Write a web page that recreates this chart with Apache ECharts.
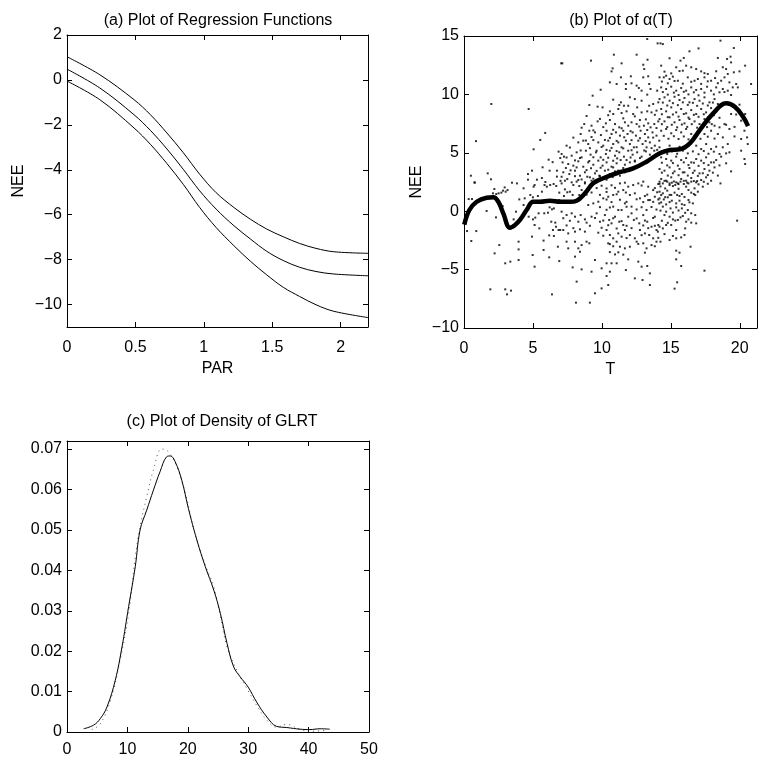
<!DOCTYPE html>
<html><head><meta charset="utf-8">
<script src="https://cdn.jsdelivr.net/npm/echarts@6/dist/echarts.min.js"></script>
<style>html,body{margin:0;padding:0;background:#fff}#c{width:759px;height:761px}</style>
</head><body><div id="c"></div><script>
// ---------- Panel (a): regression functions ----------
const parX   = [0,0.24,0.49,0.61,0.73,0.85,0.97,1.09,1.22,1.34,1.46,1.58,1.70,1.82,1.95,2.2];
const regUp  = [1.03,0.23,-0.88,-1.55,-2.36,-3.24,-4.2,-5.02,-5.68,-6.2,-6.64,-6.98,-7.28,-7.5,-7.65,-7.72];
const regMid = [0.48,-0.36,-1.55,-2.25,-3.07,-3.98,-4.94,-5.75,-6.49,-7.08,-7.63,-8.04,-8.34,-8.53,-8.64,-8.72];
const regLow = [-0.05,-0.88,-2.14,-2.87,-3.72,-4.65,-5.68,-6.57,-7.38,-8.07,-8.68,-9.23,-9.64,-10.01,-10.3,-10.58];
const aYTicks = [-10,-8,-6,-4,-2,0,2];

// ---------- Panel (b): alpha(T) ----------
const alphaT = [0.02,0.39,0.92,1.64,2.13,2.49,2.85,3.33,3.7,4.06,4.54,5.02,5.51,6.23,6.96,7.68,8.17,8.77,9.37,10.1,11.06,12.27,13.24,14.2,14.93,15.65,16.38,17.1,18.07,19.03,19.64,20.24,20.6];
const alphaV = [-1.15,0.1,0.81,1.15,1.19,0.81,-0.18,-1.41,-1.18,-0.75,0.1,0.81,0.81,0.9,0.81,0.81,0.9,1.53,2.39,2.82,3.25,3.67,4.24,4.96,5.24,5.3,5.81,6.95,8.38,9.24,8.95,8.09,7.29];
const neePts = [
[0.77,2.44],[2.2,1.9],[2.1,1.53],[2.34,1.47],[2.51,1.53],[2.71,1.59],[2.83,1.76],[2.95,2.04],[3.02,1.67],[3.16,1.81],[0.34,1.04],[0.58,1.04],[1.64,0.02],[2.32,-0.53],[2.63,0.53],[2.8,0.44],[3.48,2.44],[3.84,2.38],[4.32,1.96],[5.05,2.1],[5.12,2.24],[4.01,1.01],[4.4,1.1],[4.32,0.53],[4.81,1.39],[5.0,1.19],[5.36,1.3],[5.65,1.67],[5.84,2.24],[6.01,2.1],[6.25,2.24],[6.5,2.33],[6.69,2.16],[6.91,1.59],[6.91,0.96],[3.77,-0.04],[3.6,-0.7],[4.44,-0.18],[4.69,-0.47],[5.0,-0.7],[5.17,-0.55],[5.12,-1.18],[5.41,-0.18],[5.82,-0.18],[6.21,0.33],[6.38,0.16],[6.52,0.24],[6.09,-0.13],[6.33,-0.9],[6.62,-0.98],[6.67,-1.33],[6.86,-1.61],[6.98,-1.61],[6.45,-1.61],[5.46,-1.47],[0.22,-1.7],[0.89,-1.7],[0.53,-2.55],[2.56,-2.9],[3.96,-2.61],[5.77,-2.52],[6.18,-2.07],[6.52,-2.12],[4.93,-2.18],[2.22,-3.61],[3.96,-3.27],[5.77,-3.32],[6.81,-3.04],[2.99,-4.46],[3.36,-4.32],[3.96,-4.18],[4.98,-3.75],[6.18,-3.95],[5.12,-4.75],[6.91,-4.27],[1.91,-6.69],[2.99,-6.69],[3.12,-7.12],[3.41,-6.8],[6.38,-7.12],
[1.98,9.18],[4.69,8.75],[7.05,12.66],[5.89,6.7],[5.53,6.1],[0.87,6.0],[5.05,5.3],[6.86,5.1],[6.14,4.41],[6.43,4.2],[6.98,4.55],[5.7,3.76],[6.21,3.47],[6.74,3.47],[4.93,3.47],[6.74,2.96],[0.5,3.04],[1.72,3.24],[1.96,2.73],[4.64,3.18],[4.64,2.7],[5.29,2.7],[5.65,2.84],[5.9,2.5],[7.0,2.6],[0.77,2.47],
[13.29,14.74],[14.04,14.37],[7.13,12.66],[9.21,12.89],[10.87,13.4],[12.52,13.4],[13.31,12.97],[11.43,12.66],[13.0,12.54],[13.07,12.17],[10.78,12.23],[10.7,11.97],[12.1,11.55],[13.0,11.46],[13.36,11.55],[11.38,11.46],[10.58,11.03],[11.07,10.89],[11.74,10.89],[12.15,10.95],[12.52,10.75],[12.68,10.55],[13.43,10.89],[13.53,10.46],[11.74,10.46],[9.91,10.4],[12.88,10.32],[13.29,9.98],[14.01,10.32],[9.33,9.89],[12.03,9.75],[12.39,9.6],[12.88,9.46],[10.82,9.55],[9.09,9.09],[9.69,8.95],[10.05,8.89],[11.38,9.32],[11.26,9.09],[11.6,9.03],[11.91,9.03],[12.56,8.89],[13.43,9.03],[13.72,9.18],[14.09,9.32],[10.58,8.55],[10.82,8.32],[11.19,8.75],[11.43,8.41],[11.79,8.55],[12.27,8.32],[12.88,8.46],[13.29,8.55],[13.6,8.46],[13.96,8.61],
[8.72,7.46],[9.25,7.32],[9.69,7.69],[10.29,7.52],[10.58,7.81],[10.95,7.46],[11.26,7.18],[11.67,7.61],[11.91,7.32],[12.15,7.61],[12.52,7.46],[12.76,7.81],[13.05,7.32],[13.36,7.52],[13.53,7.18],[13.8,7.46],[14.09,7.69],
[8.46,6.61],[9.09,6.89],[9.5,6.75],[9.93,6.52],[10.34,6.89],[10.7,6.61],[11.02,6.75],[11.31,6.47],[11.55,6.89],[11.86,6.61],[12.23,6.75],[12.47,6.47],[12.81,6.89],[13.12,6.61],[13.36,6.32],[13.67,6.75],[13.96,6.47],
[7.44,5.61],[8.29,5.89],[8.65,6.04],[9.01,5.75],[9.38,6.09],[9.74,5.89],[10.1,5.61],[10.46,6.04],[10.82,5.75],[11.19,5.89],[11.43,5.47],[11.74,6.04],[12.03,5.75],[12.32,5.47],[12.64,6.04],[12.95,5.75],[13.24,5.47],[13.48,5.89],[13.84,5.61],[14.16,6.04],
[7.08,4.9],[7.25,4.67],[7.81,4.75],[8.17,5.04],[8.53,4.61],[8.84,5.18],[9.18,4.84],[9.57,5.04],[9.91,4.61],[10.29,4.9],[10.58,5.18],[10.95,4.75],[11.26,5.04],[11.6,4.67],[11.91,5.18],[12.23,4.84],[12.56,5.04],[12.88,4.67],[13.19,5.12],[13.48,4.84],[13.8,5.18],
[7.15,4.18],[7.56,4.04],[7.93,3.9],[8.29,4.27],[8.65,3.81],[9.01,4.18],[9.38,3.98],[9.74,4.33],[10.05,3.9],[10.34,4.18],[10.7,3.81],[11.07,4.1],[11.36,4.38],[11.67,3.98],[12.03,4.18],[12.39,4.33],[12.76,3.9],
[7.2,3.33],[7.64,3.18],[8.05,3.47],[8.41,3.04],[8.77,3.33],[9.13,2.9],[9.5,3.24],[9.81,3.04],[10.22,3.47],[10.58,3.18],[10.95,3.41],[11.31,3.04],[11.67,3.33],[7.32,2.61],[7.81,2.47],[8.29,2.67],[8.77,2.47],[9.25,2.61],[9.62,2.47],
[14.25,14.37],[14.42,14.31],[16.35,13.69],[17.01,13.94],[18.6,14.6],[19.57,13.97],[14.91,13.09],[15.7,12.89],[15.94,13.12],[16.11,12.46],[18.41,13.12],[19.08,13.03],[19.33,13.23],[19.37,12.74],[20.39,12.46],[14.3,12.46],[15.39,12.32],[15.87,12.03],[16.48,12.32],[16.84,12.17],[17.2,11.97],[17.68,11.75],[18.77,12.32],[19.01,12.17],[19.13,11.75],[19.57,11.89],[19.98,11.97],[20.82,10.89],[19.74,10.89],[19.86,10.6],
[14.18,11.46],[14.49,11.46],[14.66,11.6],[14.91,11.32],[15.15,11.52],[15.51,11.17],[16.23,11.46],[16.72,11.17],[16.96,11.32],[17.44,11.46],[17.92,11.17],[18.21,11.4],[18.65,11.17],[18.89,11.46],[19.25,11.03],
[14.3,10.6],[14.66,10.46],[15.03,10.66],[15.39,10.32],[15.75,10.55],[16.11,10.32],[16.48,10.6],[16.84,10.38],[17.2,10.46],[17.63,10.66],[17.92,10.32],[18.29,10.6],[18.53,10.18],[18.77,10.46],[19.13,10.32],[19.49,10.6],
[14.18,9.6],[14.54,9.75],[14.91,9.46],[15.27,9.8],[15.63,9.52],[15.99,9.69],[16.35,9.32],[16.72,9.6],[17.08,9.46],[17.44,9.75],[17.8,9.32],[18.17,9.6],[18.41,9.18],[19.98,9.12],
[14.3,8.75],[14.66,8.55],[15.03,8.89],[15.39,8.46],[15.75,8.75],[16.11,8.38],[16.48,8.66],[16.84,8.32],[17.2,8.75],[17.56,8.46],[17.92,8.83],[18.29,8.55],[19.37,8.32],[20.1,7.75],[20.39,8.32],
[14.18,7.89],[14.54,7.69],[14.91,8.04],[15.27,7.61],[15.63,7.81],[15.99,7.52],[16.35,7.89],[16.72,7.69],[17.08,7.46],[17.44,7.89],[17.8,7.61],[18.17,7.32],[18.89,7.46],[19.25,7.04],[20.34,6.89],
[14.3,6.89],[14.66,7.04],[15.03,6.67],[15.39,6.95],[15.75,6.75],[16.11,7.04],[16.48,6.61],[16.96,6.84],[17.44,6.61],[17.92,6.89],[18.41,6.61],[18.77,6.32],[19.13,5.75],[20.53,6.32],[20.58,5.75],[20.1,5.18],
[14.18,5.47],[14.54,5.18],[14.91,5.61],[15.27,5.32],[15.63,5.52],[16.84,5.61],[17.2,5.32],[17.56,5.75],[17.92,5.32],[18.29,5.52],[18.77,5.47],[19.01,4.95],[19.25,5.04],[20.34,4.47],[20.39,4.04],
[14.3,4.61],[14.66,4.47],[15.03,4.33],[15.39,4.67],[15.75,4.38],[16.11,4.55],[16.48,4.18],[16.84,4.47],[17.2,4.33],[17.56,4.61],[17.92,4.18],[18.29,4.38],[18.65,4.67],
[14.18,3.61],[14.54,3.47],[14.91,3.75],[15.27,3.41],[15.63,3.61],[15.99,3.33],[16.35,3.7],[16.72,3.47],[17.08,3.24],[17.44,3.61],[17.8,3.47],[18.17,3.75],[19.37,3.41],
[14.3,2.76],[14.66,2.61],[15.03,2.9],[15.39,2.47],[15.75,2.76],[16.11,2.61],[16.48,2.84],[16.84,2.47],[17.2,2.67],[17.56,2.9],[17.92,2.61],
[7.08,2.38],[7.32,1.87],[7.68,1.67],[7.93,2.24],[8.17,2.53],[8.36,2.16],[8.53,1.81],[8.77,2.38],[7.25,1.3],[7.88,1.39],[8.36,1.39],[9.01,0.53],[9.38,0.67],[9.74,0.81],[10.1,1.1],[10.46,1.24],[10.82,1.39],[11.19,1.67],[11.55,1.81],[11.91,2.1],[12.27,2.24],[12.64,2.38],[13.0,2.53],[13.36,2.1],[13.72,1.81],[14.09,2.33],[11.31,2.38],[11.67,2.44],[12.03,1.39],[12.39,1.53],[12.76,1.1],[13.12,1.3],[13.48,0.96],[13.84,1.24],[14.16,0.67],[10.82,0.39],[11.19,0.1],[11.67,0.67],[12.15,0.39],
[7.08,-0.04],[7.44,-0.33],[7.81,-0.18],[8.05,-0.47],[8.29,-0.9],[8.46,-0.33],[8.77,-0.7],[8.89,-0.98],[9.25,-0.47],[9.62,-0.18],[9.86,-0.9],[10.22,-0.33],[10.53,-0.75],[10.7,-1.04],[10.95,-0.47],[11.26,-0.9],[11.55,-1.18],[11.91,-0.47],[12.15,-0.18],[12.32,-0.75],[12.71,-1.04],[13.0,-0.33],[13.29,-0.9],[13.6,-1.33],[13.84,-0.47],[14.09,-1.18],
[7.2,-1.61],[7.56,-1.9],[8.05,-1.75],[8.41,-1.55],[8.77,-1.75],[9.74,-1.84],[10.34,-1.61],[10.58,-2.04],[10.82,-2.32],[11.19,-1.9],[11.43,-2.18],[11.67,-1.61],[12.03,-2.04],[12.39,-2.32],[12.76,-1.61],[13.12,-1.9],[13.43,-2.04],[13.72,-2.32],[13.96,-1.61],
[7.44,-2.61],[8.05,-2.61],[8.29,-3.18],[8.41,-3.47],[8.53,-2.9],[8.89,-2.61],[9.09,-2.75],[10.46,-2.75],[11.07,-2.61],[11.31,-3.04],[11.67,-3.18],[12.03,-3.04],[12.52,-2.61],[13.0,-2.75],[13.24,-3.18],[13.6,-2.9],[13.96,-2.61],
[7.56,-3.18],[8.05,-3.89],[9.5,-4.18],[10.34,-4.46],[10.7,-4.46],[11.07,-4.46],[11.91,-4.12],[12.64,-4.32],[12.88,-4.75],[13.29,-4.69],[7.88,-4.81],[8.53,-4.98],[9.25,-5.18],[9.98,-4.89],[10.58,-5.18],[11.74,-5.04],[13.48,-5.32],[10.34,-5.55],[12.39,-5.75],[12.95,-5.89],[8.17,-6.03],[9.98,-6.61],[10.46,-6.32],[13.48,-6.32],[9.5,-7.03],[8.12,-7.83],[9.13,-7.83],
[14.18,2.53],[14.42,2.38],[14.74,2.53],[14.91,2.24],[15.07,2.44],[15.32,2.24],[15.51,2.38],[15.7,2.53],[15.94,2.33],[16.19,2.44],[16.48,2.53],[16.91,2.58],[17.32,2.1],[18.6,2.38],
[14.18,1.67],[14.42,1.53],[14.74,1.76],[15.03,1.39],[15.27,1.59],[15.46,1.39],[15.63,1.3],[15.8,1.47],[16.28,1.81],[16.48,1.59],[16.67,1.47],[16.96,1.67],
[14.18,1.1],[14.49,1.01],[14.78,1.19],[15.07,0.9],[15.39,0.67],[15.63,0.9],[15.99,0.53],[16.28,0.96],[16.6,0.67],
[14.42,0.39],[14.66,-0.04],[14.98,0.24],[15.39,0.33],[15.8,0.24],[16.23,0.1],[16.48,-0.18],[16.77,-0.33],
[14.54,-0.33],[14.91,-0.47],[15.15,-0.7],[15.51,-0.75],[15.7,-0.53],[15.87,-0.41],[16.11,-0.9],[16.28,-0.7],[16.84,-1.04],[19.81,-0.81],
[14.18,-1.33],[14.42,-1.47],[14.66,-1.18],[15.03,-1.18],[15.39,-1.61],[16.04,-1.47],[14.06,-1.75],
[14.25,-2.61],[14.91,-2.47],[15.39,-2.32],[15.75,-2.24],[15.99,-2.04],[16.43,-3.04],[15.39,-3.38],[15.63,-3.55],[15.39,-4.12],[15.75,-4.69],[17.44,-5.09],[15.46,-6.09],[15.27,-6.63],
[8.89,8.15],[9.86,7.9],[10.46,8.22],[11.55,7.95],[12.39,8.12],[13.19,7.86],[13.84,8.25],
[8.53,7.15],[9.38,6.92],[10.1,7.2],[10.82,6.97],[11.43,7.1],[12.08,6.85],[12.71,7.25],[13.29,6.95],[13.96,7.12],
[7.93,6.3],[8.84,6.05],[9.25,6.35],[10.22,6.1],[10.58,6.28],[11.07,6.02],[11.62,6.33],[12.15,6.08],[12.76,6.25],[13.17,6.0],[13.72,6.3],
[7.68,5.45],[8.46,5.2],[9.13,5.4],[9.62,5.18],[9.98,5.5],[10.34,5.25],[10.7,5.42],[11.07,5.15],[11.55,5.38],[12.15,5.22],[12.52,5.48],[13.07,5.2],[13.6,5.4],[14.01,5.25],
[7.44,4.6],[8.05,4.35],[8.41,4.55],[9.09,4.3],[9.38,4.62],[10.1,4.4],[10.46,4.58],[10.82,4.32],[11.11,4.52],[11.79,4.38],[12.08,4.6],[12.39,4.25],[12.76,4.55],
[7.39,3.7],[7.73,3.5],[8.17,3.75],[8.89,3.52],[9.21,3.68],[9.62,3.45],[9.91,3.72],[10.46,3.55],[10.82,3.75],[11.19,3.48],[11.55,3.7],[11.91,3.55],
[7.08,2.95],[7.49,2.75],[8.05,3.0],[8.53,2.72],[8.94,2.95],[9.38,2.78],[9.86,3.0],[10.34,2.7],[10.78,2.92],
[14.54,11.95],[15.03,11.8],[15.63,12.0],[17.44,11.82],[18.29,11.98],
[14.35,11.1],[14.78,10.95],[15.27,11.15],[15.87,10.92],[16.48,11.08],[17.2,10.9],[17.68,11.12],[18.41,10.96],
[14.42,10.2],[14.78,9.98],[15.22,10.15],[15.56,9.95],[15.94,10.22],[16.28,10.0],[16.67,10.18],[17.01,9.92],[17.44,10.15],[18.12,10.0],[18.89,10.2],[19.37,9.95],
[14.42,9.3],[14.74,9.05],[15.15,9.25],[15.51,9.08],[15.87,9.32],[16.23,9.1],[16.6,9.28],[16.91,9.02],[17.32,9.22],[17.68,9.05],[18.05,9.3],[18.77,9.1],[19.25,9.25],
[14.35,8.3],[14.78,8.05],[15.15,8.28],[15.56,8.1],[15.94,8.32],[16.28,8.02],[16.67,8.25],[17.01,8.08],[17.39,8.3],[17.73,8.05],[18.12,8.22],[18.53,8.0],[19.74,8.28],
[14.35,7.45],[14.74,7.2],[15.07,7.4],[15.46,7.18],[15.8,7.42],[16.19,7.22],[16.52,7.45],[16.91,7.15],[17.25,7.38],[17.63,7.2],[17.97,7.45],[18.53,7.18],[19.01,7.4],[19.62,7.22],
[14.49,6.45],[14.83,6.2],[15.22,6.42],[15.56,6.18],[15.94,6.4],[16.28,6.15],[16.72,6.45],[17.15,6.2],[17.68,6.38],[18.17,6.22],[19.62,6.4],[20.1,6.18],
[14.35,5.15],[14.74,4.9],[15.07,5.12],[15.46,4.92],[15.87,5.18],[16.23,4.95],[16.6,5.12],[17.01,4.88],[17.39,5.15],[17.73,4.92],[18.12,5.1],[18.53,4.9],
[14.35,4.15],[14.74,3.92],[15.15,4.12],[15.51,3.9],[15.94,4.18],[16.28,3.95],[16.67,4.15],[17.01,3.88],[17.39,4.12],[17.73,3.95],[18.12,4.18],[18.53,3.92],[19.01,4.1],
[14.35,3.3],[14.78,3.05],[15.15,3.25],[15.56,3.08],[15.87,3.32],[16.23,3.05],[16.6,3.28],[16.96,3.02],[17.32,3.25],[17.68,3.1],[18.05,3.3],[18.41,3.05],
[14.18,2.35],[14.54,2.6],[14.91,2.38],[15.22,2.55],[15.56,2.32],[15.94,2.6],[16.28,2.38],[16.67,2.58],[17.01,2.3],[17.39,2.52],[17.68,2.35],
[9.13,2.2],[9.62,1.98],[9.98,2.18],[10.34,1.95],[10.7,2.22],[10.95,2.0],[12.88,2.2],[13.84,1.98],
[7.49,1.62],[8.89,1.42],[9.25,1.6],[9.86,1.4],[10.34,1.65],[11.07,1.45],[11.74,1.6],[13.29,1.42],[14.01,1.62],
[10.34,1.0],[10.7,0.78],[11.31,0.98],[11.79,0.8],[12.52,1.02],[13.0,0.78],[13.36,0.95],[13.72,0.8],[14.09,1.0],
[9.86,0.35],[10.34,0.12],[10.58,0.32],[11.43,0.1],[11.79,0.38],[12.52,0.15],[12.88,0.34],[13.24,0.1],[13.6,0.36],[13.96,0.14],
[7.2,-0.6],[7.68,-0.82],[9.5,-0.58],[10.1,-0.8],[10.82,-0.6],[11.43,-0.85],[12.52,-0.62],[13.12,-0.8],[13.72,-0.58],
[7.44,-1.22],[7.93,-1.45],[9.13,-1.25],[9.98,-1.42],[10.46,-1.2],[11.07,-1.48],[11.79,-1.25],[12.15,-1.45],[13.0,-1.22],[13.36,-1.45],[13.84,-1.25],
[10.1,-2.1],[11.79,-2.3],[12.88,-2.05],[14.09,-2.28],[10.58,-2.82],[10.82,-3.0],[12.64,-2.8],[13.84,-3.0],[10.58,-3.5],[10.95,-3.7],[11.19,-3.52],[11.55,-3.72],[13.12,-3.55],
[14.25,2.12],[14.59,1.95],[15.15,2.15],[15.56,1.92],[16.11,2.1],[16.72,1.96],[14.3,1.38],[14.59,1.2],[14.91,1.4],[15.99,1.22],[16.77,1.38],[14.3,0.75],[14.66,0.58],[14.91,0.78],[15.8,0.6],[16.35,0.76],
[14.25,0.05],[15.15,-0.12],[15.56,0.06],[16.04,-0.14],[14.35,-0.82],[14.78,-1.0],[15.32,-0.8],[16.48,-0.98],[14.54,-1.96],[15.15,-2.12]
];

// ---------- Panel (c): density of GLRT ----------
const glrtX  = [2.76,4.41,5.51,6.62,7.99,9.1,10.2,11.3,12.1,13.2,14.3,15.4,16.5,17.1,17.9,19.0,20.1,21.5,22.9,24.3,25.4,26.5,27.6,28.7,30.0,31.4,33.1,34.7,36.4,38.6,40.2,41.9,43.5];
const glrtY  = [0.0008,0.0017,0.0033,0.0062,0.0128,0.021,0.031,0.0409,0.05,0.0549,0.0598,0.0644,0.0681,0.0683,0.0669,0.0623,0.0553,0.0475,0.0409,0.0351,0.0293,0.0219,0.0161,0.0136,0.0111,0.0074,0.0037,0.0014,0.0011,0.0007,0.0006,0.0008,0.0007];
const glrtX2 = [4.1,5.5,7.2,8.8,10.2,11.3,12.1,13.2,14.3,15.7,16.8,18.2,19.6,20.9,22.6,24.3,25.4,26.5,28.1,29.8,31.4,33.1,34.7,36.4,38.6,40.8,43];
const glrtY2 = [0.0006,0.002,0.0078,0.0178,0.0293,0.0433,0.0508,0.0582,0.0648,0.07,0.0693,0.0656,0.059,0.0508,0.0425,0.0359,0.0285,0.0211,0.0153,0.0107,0.0066,0.0029,0.0012,0.0019,0.0006,0.0002,0.0004];

const FONT = '"Liberation Sans",Arial,Helvetica,sans-serif';
const FS = 16;
const zip = (xs, ys) => xs.map((x, i) => [x, ys[i]]);
const minus = v => String(v).replace('-', '\u2212');

function xAx(grid, min, max, interval, pos, extra) {
  const top = pos === 'top';
  return Object.assign({
    type: 'value', gridIndex: grid, position: pos, min, max, interval,
    axisLine: { show: true, onZero: false, lineStyle: { color: '#000', width: 1 } },
    axisTick: { show: true, inside: true, length: 5, lineStyle: { color: '#000' } },
    axisLabel: { show: !top, showMaxLabel: false, color: '#000', fontFamily: FONT, fontSize: FS, margin: 13, formatter: minus },
    splitLine: { show: false },
    nameTextStyle: { color: '#000', fontFamily: FONT, fontSize: FS }
  }, extra || {});
}
function yAx(grid, min, max, interval, pos, extra) {
  const right = pos === 'right';
  return Object.assign({
    type: 'value', gridIndex: grid, position: pos, min, max, interval,
    axisLine: { show: true, onZero: false, lineStyle: { color: '#000', width: 1 } },
    axisTick: { show: true, inside: true, length: 5, lineStyle: { color: '#000' } },
    axisLabel: { show: !right, showMaxLabel: false, color: '#000', fontFamily: FONT, fontSize: FS, margin: 5, formatter: minus },
    splitLine: { show: false },
    nameTextStyle: { color: '#000', fontFamily: FONT, fontSize: FS }
  }, extra || {});
}

const chart = echarts.init(document.getElementById('c'), null, { renderer: 'canvas' });
const aTickY = { show: true, inside: true, length: 5, lineStyle: { color: '#000' }, customValues: aYTicks };
const titleStyle = { fontFamily: FONT, fontSize: FS, fontWeight: 'normal', color: '#000' };
const option = {
  animation: false,
  backgroundColor: '#fff',
  title: [
    { text: '(a) Plot of Regression Functions', left: 213, top: 8, textAlign: 'center', textStyle: titleStyle },
    { text: '(b) Plot of \u03b1(T)', left: 616, top: 8, textAlign: 'center', textStyle: titleStyle },
    { text: '(c) Plot of Density of GLRT', left: 217, top: 409, textAlign: 'center', textStyle: titleStyle }
  ],
  grid: [
    { left: 67, top: 35, width: 301, height: 292 },
    { left: 464, top: 36, width: 293, height: 292 },
    { left: 67, top: 441, width: 302, height: 291 }
  ],
  xAxis: [
    xAx(0, 0, 2.2, 0.5, 'bottom', { name: 'PAR', nameLocation: 'middle', nameGap: 34 }),
    xAx(0, 0, 2.2, 0.5, 'top'),
    xAx(1, 0, 21.25, 5, 'bottom', { name: 'T', nameLocation: 'middle', nameGap: 34 }),
    xAx(1, 0, 21.25, 5, 'top'),
    xAx(2, 0, 50, 10, 'bottom', { axisLabel: { show: true, showMaxLabel: true, color: '#000', fontFamily: FONT, fontSize: FS, margin: 10 } }),
    xAx(2, 0, 50, 10, 'top')
  ],
  yAxis: [
    yAx(0, -11, 2, null, 'left', { name: 'NEE', nameLocation: 'middle', nameGap: 40, nameRotate: 90,
      axisTick: aTickY,
      axisLabel: { show: true, color: '#000', fontFamily: FONT, fontSize: FS, margin: 5, formatter: minus, customValues: aYTicks } }),
    yAx(0, -11, 2, null, 'right', { axisTick: aTickY, axisLabel: { show: false, customValues: aYTicks } }),
    yAx(1, -10, 15, 5, 'left', { name: 'NEE', nameLocation: 'middle', nameGap: 39, nameRotate: 90,
      axisLabel: { show: true, showMaxLabel: true, color: '#000', fontFamily: FONT, fontSize: FS, margin: 5, formatter: minus } }),
    yAx(1, -10, 15, 5, 'right'),
    yAx(2, 0, 0.072, 0.01, 'left', { axisLabel: { show: true, showMaxLabel: false, color: '#000', fontFamily: FONT, fontSize: FS, margin: 5,
      formatter: v => (Math.abs(v) < 1e-9 ? '0' : v.toFixed(2)) } }),
    yAx(2, 0, 0.072, 0.01, 'right')
  ],
  series: [
    { type: 'line', xAxisIndex: 0, yAxisIndex: 0, data: zip(parX, regUp), smooth: 0.35, showSymbol: false, lineStyle: { color: '#000', width: 1 } },
    { type: 'line', xAxisIndex: 0, yAxisIndex: 0, data: zip(parX, regMid), smooth: 0.35, showSymbol: false, lineStyle: { color: '#000', width: 1 } },
    { type: 'line', xAxisIndex: 0, yAxisIndex: 0, data: zip(parX, regLow), smooth: 0.35, showSymbol: false, lineStyle: { color: '#000', width: 1 } },
    { type: 'scatter', xAxisIndex: 2, yAxisIndex: 2, data: neePts, symbol: 'rect', symbolSize: 2, itemStyle: { color: '#000' } },
    { type: 'line', xAxisIndex: 2, yAxisIndex: 2, data: zip(alphaT, alphaV), smooth: 0.4, showSymbol: false, lineStyle: { color: '#000', width: 4.5 } },
    { type: 'line', xAxisIndex: 4, yAxisIndex: 4, data: zip(glrtX2, glrtY2), smooth: 0.4, showSymbol: false, lineStyle: { color: '#555', width: 1, type: [1, 4] } },
    { type: 'line', xAxisIndex: 4, yAxisIndex: 4, data: zip(glrtX, glrtY), smooth: 0.4, showSymbol: false, lineStyle: { color: '#000', width: 1 } }
  ]
};
chart.setOption(option);
</script></body></html>
